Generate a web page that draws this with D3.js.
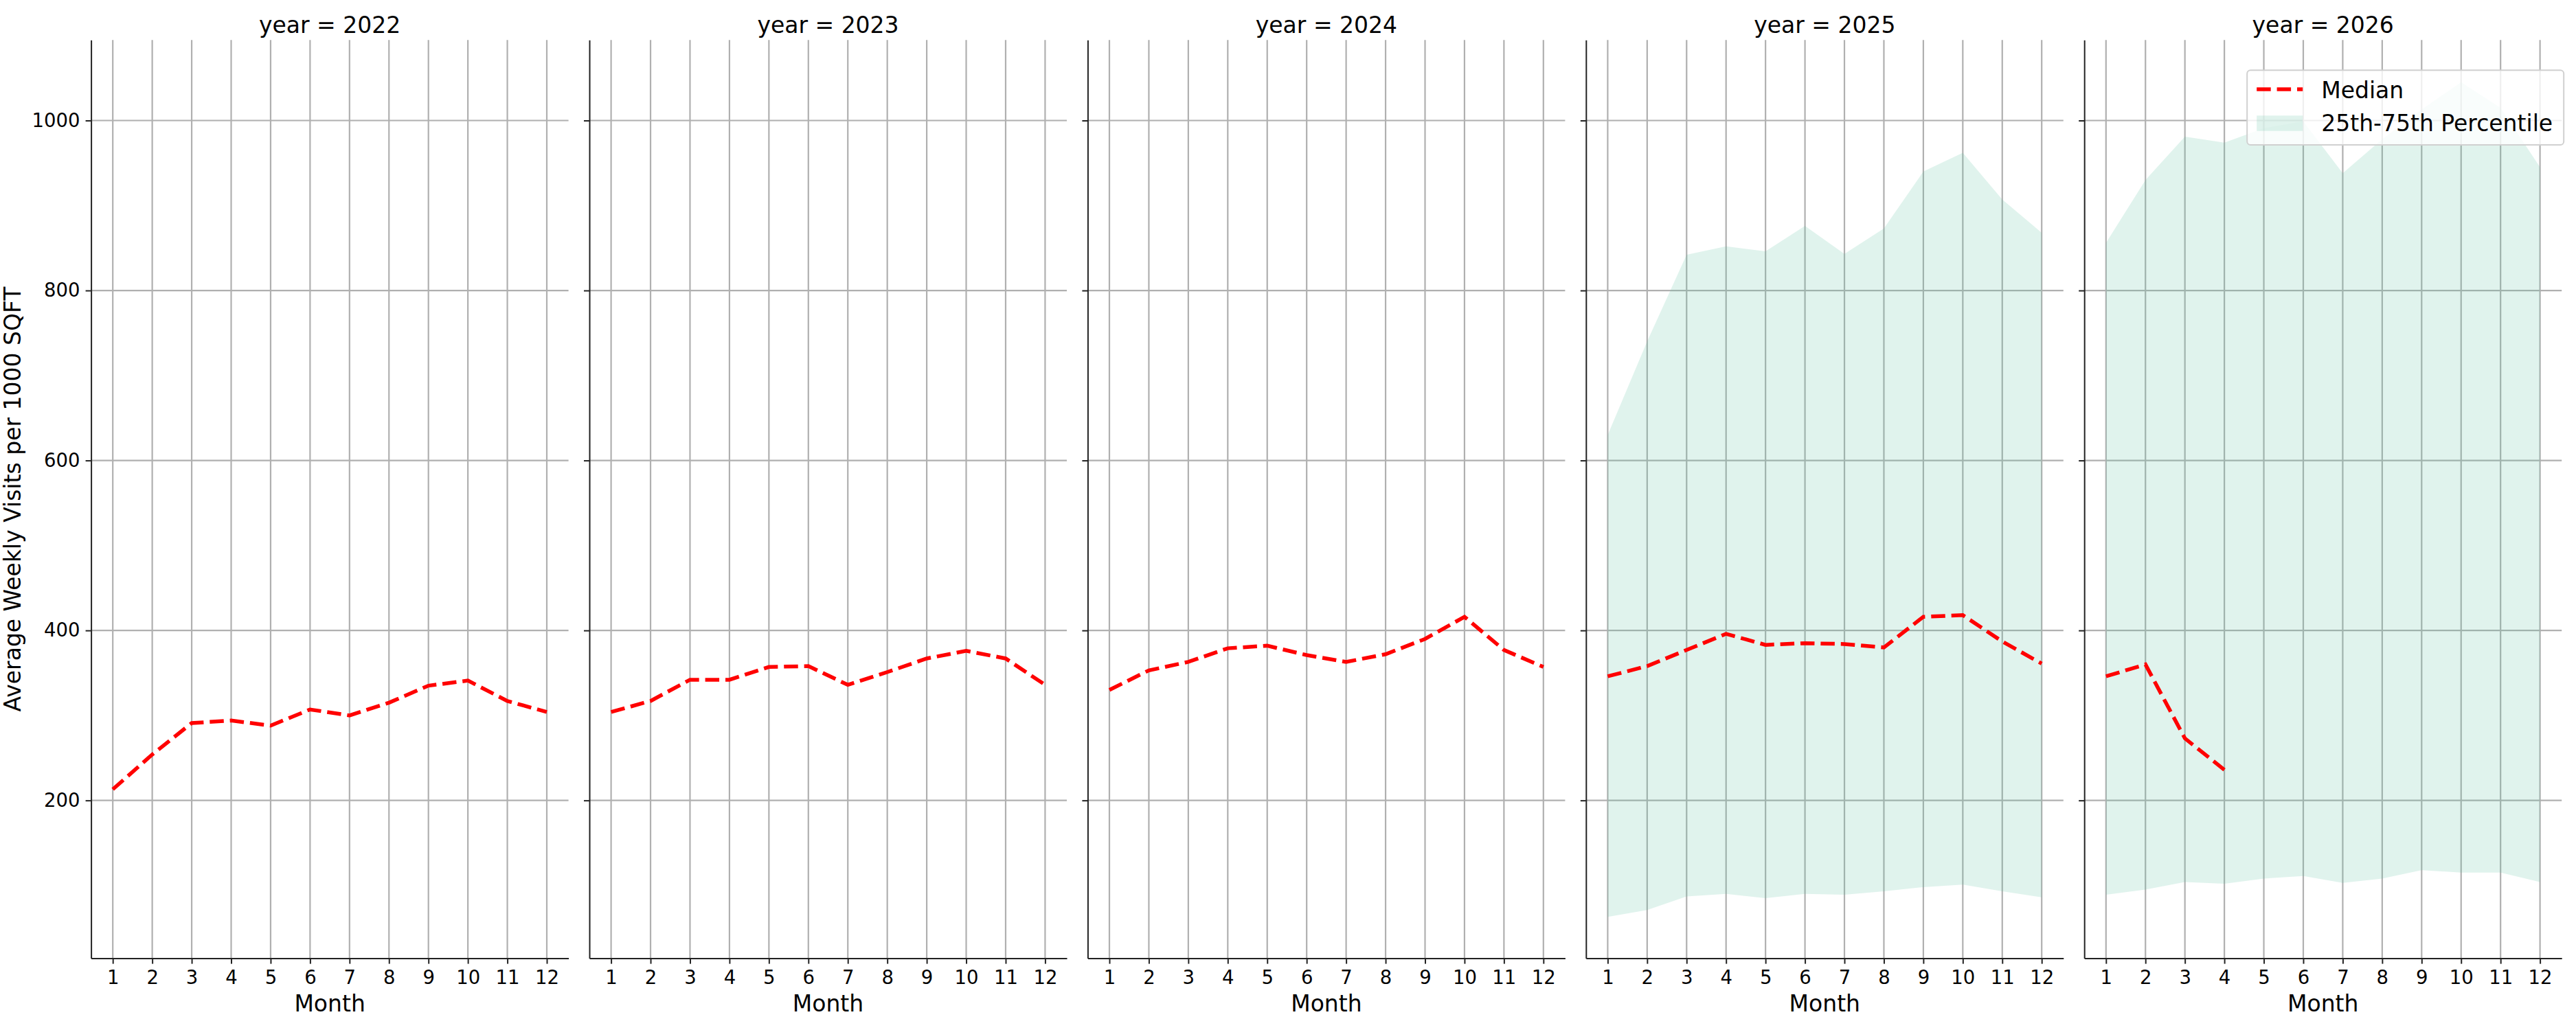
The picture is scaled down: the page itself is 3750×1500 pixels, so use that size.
<!DOCTYPE html>
<html>
<head>
<meta charset="utf-8">
<script src="https://cdn.jsdelivr.net/npm/d3@7"></script>
<style>
  body { margin: 0; background: #fff; }
  text { font-family: "DejaVu Sans", sans-serif; fill: #000; }
  .grid line { stroke: #b0b0b0; stroke-width: 2.2; }
  .axis path, .axis line { stroke: #222; stroke-width: 2; }
  .axis text { font-size: 27.5px; }
</style>
</head>
<body>
<div id="chart"></div>
<script>
// chart values
var years = [2022, 2023, 2024, 2025, 2026];
var months = [1, 2, 3, 4, 5, 6, 7, 8, 9, 10, 11, 12];
var yTicks = [200, 400, 600, 800, 1000];

var median2022 = [213, 254, 291, 294, 288, 307, 300, 315, 335, 341, 317, 304];
var median2023 = [304, 317, 342, 342, 357, 358, 336, 351, 367, 376, 367, 336];
var median2024 = [330, 353, 363, 379, 382, 371, 363, 372, 390, 416, 377, 357];
var median2025 = [346, 358, 377, 396, 383, 385, 384, 380, 416, 418, 387, 361];
var median2026 = [346, 360, 273, 236];

var p25_2025 = [63, 71, 87, 90, 85, 90, 89, 93, 98, 101, 93, 86];
var p75_2025 = [630, 740, 842, 852, 846, 876, 843, 873, 940, 962, 907, 868];
var p25_2026 = [89, 95, 104, 102, 108, 111, 103, 108, 118, 115, 115, 104];
var p75_2026 = [856, 930, 981, 974, 991, 999, 938, 978, 1013, 1045, 1015, 945];

(function () {
  var medians = [median2022, median2023, median2024, median2025, median2026];
  var lowers = [null, null, null, p25_2025, p25_2026];
  var uppers = [null, null, null, p75_2025, p75_2026];

  // figure geometry
  var width = 3750, height = 1500;
  var left0 = 132.6, panelW = 695, gap = 30.4;
  var plotTop = 58.3, plotBottom = 1395.6;
  var bandColor = "#66c2a5";

  var svg = d3.select("#chart").append("svg")
    .attr("width", width)
    .attr("height", height)
    .attr("viewBox", "0 0 " + width + " " + height);

  var y = d3.scaleLinear().domain([14.2, 1094.7]).range([plotBottom, plotTop]);

  years.forEach(function (year, i) {
    var x0 = left0 + i * (panelW + gap);
    var x = d3.scaleLinear().domain([0.45, 12.55]).range([x0, x0 + panelW]);

    var g = svg.append("g").attr("class", "panel");

    // grid lines
    var grid = g.append("g").attr("class", "grid");
    grid.selectAll(".gx").data(months).enter().append("line")
      .attr("x1", function (d) { return x(d); })
      .attr("x2", function (d) { return x(d); })
      .attr("y1", plotTop).attr("y2", plotBottom);
    grid.selectAll(".gy").data(yTicks).enter().append("line")
      .attr("x1", x0).attr("x2", x0 + panelW)
      .attr("y1", function (d) { return y(d); })
      .attr("y2", function (d) { return y(d); });

    // 25th-75th percentile band
    if (lowers[i]) {
      var band = months.map(function (m, k) {
        return {m: m, lo: lowers[i][k], hi: uppers[i][k]};
      });
      g.append("path")
        .datum(band)
        .attr("fill", bandColor)
        .attr("fill-opacity", 0.2)
        .attr("d", d3.area()
          .x(function (d) { return x(d.m); })
          .y0(function (d) { return y(d.lo); })
          .y1(function (d) { return y(d.hi); }));
    }

    // median line
    g.append("path")
      .datum(medians[i])
      .attr("fill", "none")
      .attr("stroke", "red")
      .attr("stroke-width", 5.5)
      .attr("stroke-dasharray", "20.5,8.9")
      .attr("d", d3.line()
        .x(function (d, k) { return x(months[k]); })
        .y(function (d) { return y(d); }));

    // axes
    g.append("g")
      .attr("class", "axis")
      .attr("transform", "translate(0," + plotBottom + ")")
      .call(d3.axisBottom(x).tickValues(months).tickFormat(d3.format("d"))
        .tickSize(8).tickSizeOuter(0).tickPadding(10));

    var yAxis = d3.axisLeft(y).tickValues(yTicks).tickFormat(d3.format("d"))
      .tickSize(8).tickSizeOuter(0).tickPadding(8);
    if (i > 0) yAxis.tickFormat("");
    g.append("g")
      .attr("class", "axis")
      .attr("transform", "translate(" + x0 + ",0)")
      .call(yAxis);

    g.selectAll(".axis text").attr("font-family", "DejaVu Sans").attr("fill", "#000");

    // titles
    g.append("text")
      .attr("x", x0 + panelW / 2)
      .attr("y", 48)
      .attr("text-anchor", "middle")
      .style("font-size", "33px")
      .text("year = " + year);

    g.append("text")
      .attr("x", x0 + panelW / 2)
      .attr("y", 1473)
      .attr("text-anchor", "middle")
      .style("font-size", "33px")
      .text("Month");

    // legend in the last panel
    if (i === years.length - 1) {
      var lx = x0 + panelW - 458, ly = plotTop + 44;
      var leg = g.append("g").attr("transform", "translate(" + lx + "," + ly + ")");
      leg.append("rect")
        .attr("width", 461).attr("height", 108.7)
        .attr("rx", 5)
        .attr("fill", "#fff").attr("fill-opacity", 0.8)
        .attr("stroke", "#d0d0d0").attr("stroke-width", 2);
      leg.append("line")
        .attr("x1", 14).attr("x2", 81).attr("y1", 27.7).attr("y2", 27.7)
        .attr("stroke", "red").attr("stroke-width", 5.5)
        .attr("stroke-dasharray", "20.5,8.9");
      leg.append("rect")
        .attr("x", 14).attr("y", 66).attr("width", 67).attr("height", 22.4)
        .attr("fill", bandColor).attr("fill-opacity", 0.2);
      leg.append("text").attr("x", 108).attr("y", 40.4)
        .style("font-size", "33px").text("Median");
      leg.append("text").attr("x", 108).attr("y", 88.4)
        .style("font-size", "33px").text("25th-75th Percentile");
    }
  });

  // shared y label
  svg.append("text")
    .attr("transform", "translate(30," + (plotTop + plotBottom) / 2 + ") rotate(-90)")
    .attr("text-anchor", "middle")
    .style("font-size", "33px")
    .text("Average Weekly Visits per 1000 SQFT");
})();
</script>
</body>
</html>
